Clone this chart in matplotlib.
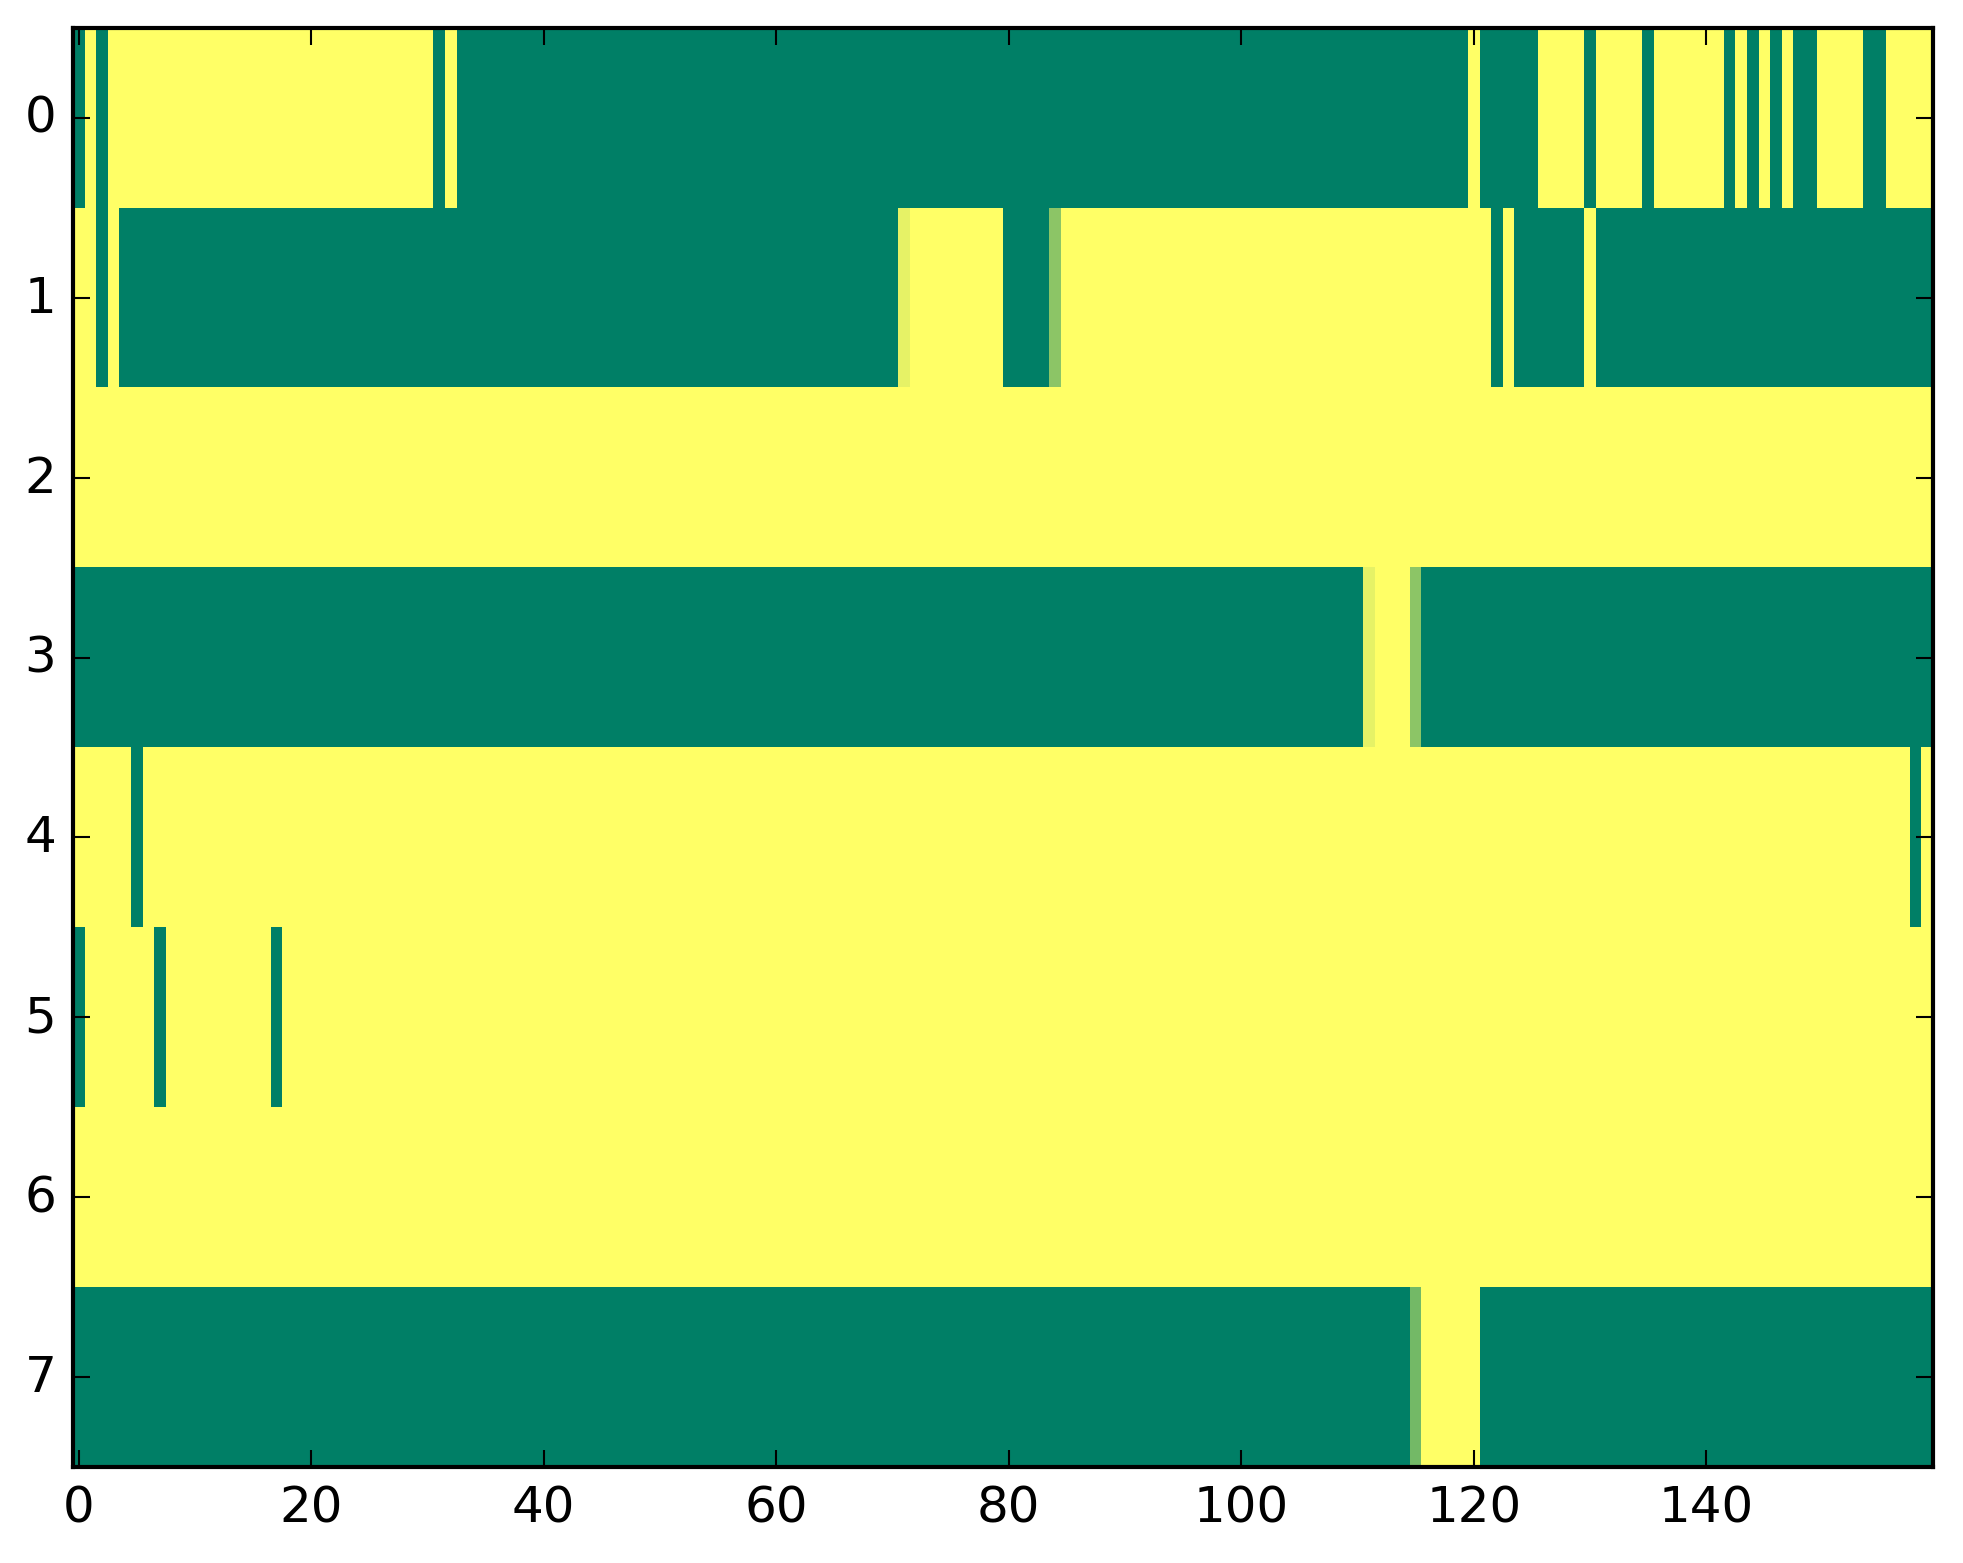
import numpy as np
import matplotlib
matplotlib.use("Agg")
import matplotlib.pyplot as plt

# each row as (value, run length) pairs, read left to right, 160 columns
row0 = [(0, 1), (1, 1), (0, 1), (1, 28), (0, 1), (1, 1), (0, 87), (1, 1),
        (0, 5), (1, 4), (0, 1), (1, 4), (0, 1), (1, 6), (0, 1), (1, 1),
        (0, 1), (1, 1), (0, 1), (1, 1), (0, 2), (1, 4), (0, 2), (1, 4)]
row1 = [(1, 2), (0, 1), (1, 1), (0, 67), (0.9, 1), (1, 8), (0, 4), (0.55, 1),
        (1, 37), (0, 1), (1, 1), (0, 6), (1, 1), (0, 29)]
row2 = [(1, 160)]
row3 = [(0, 111), (0.9, 1), (1, 3), (0.55, 1), (0, 44)]
row4 = [(1, 5), (0, 1), (1, 152), (0, 1), (1, 1)]
row5 = [(0, 1), (1, 6), (0, 1), (1, 9), (0, 1), (1, 142)]
row6 = [(1, 160)]
row7 = [(0, 115), (0.45, 1), (1, 5), (0, 39)]

rows = [row0, row1, row2, row3, row4, row5, row6, row7]


def expand(runs):
    vals = []
    for v, n in runs:
        vals += [v] * n
    return vals


data = np.array([expand(r) for r in rows])

plt.style.use('classic')
fig = plt.figure(figsize=(1963 / 300, 1564 / 300), dpi=300)
fig.patch.set_facecolor('white')
ax = fig.add_axes([73 / 1963, 96 / 1564, 1860 / 1963, 1439 / 1564])
ax.imshow(data, cmap='summer', aspect='auto', interpolation='nearest',
          vmin=0, vmax=1)
ax.set_xticks(np.arange(0, 160, 20))
ax.set_yticks(np.arange(0, 8))
ax.set_xlim(-0.5, 159.5)
ax.set_ylim(7.5, -0.5)

fig.savefig('out.png', dpi=300, facecolor='white')
